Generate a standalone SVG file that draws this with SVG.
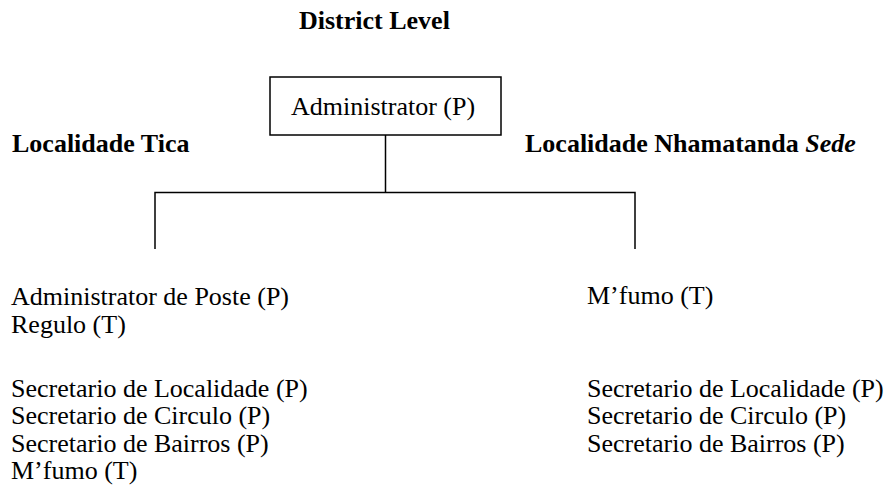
<svg xmlns="http://www.w3.org/2000/svg" width="893" height="495" viewBox="0 0 893 495">
<style>
text{font-family:"Liberation Serif","Times New Roman",serif;font-size:26px;fill:#000}
.b{font-weight:bold}
.ln{stroke:#000;stroke-width:1.5;fill:none}
</style>
<rect width="893" height="495" fill="#fff"/>
<g id="title"><text class="b" x="299" y="29">District Level</text></g>
<g id="admin">
<rect x="270" y="77" width="231" height="58" fill="#fff" stroke="#000" stroke-width="1.5"/>
<text x="291" y="115">Administrator (P)</text>
</g>
<g id="connectors">
<path class="ln" d="M385.5 135V192.5M155 249V192.5H635V249"/>
</g>
<g id="tica">
<text class="b" x="12" y="152">Localidade Tica</text>
<text x="11" y="305">Administrator de Poste (P)</text>
<text x="11" y="333">Regulo (T)</text>
<text x="11" y="397">Secretario de Localidade (P)</text>
<text x="11" y="424">Secretario de Circulo (P)</text>
<text x="11" y="452">Secretario de Bairros (P)</text>
<text x="11" y="479">M’fumo (T)</text>
</g>
<g id="sede">
<text class="b" x="525" y="152">Localidade Nhamatanda <tspan font-style="italic">Sede</tspan></text>
<text x="587" y="304">M’fumo (T)</text>
<text x="587" y="397">Secretario de Localidade (P)</text>
<text x="587" y="424">Secretario de Circulo (P)</text>
<text x="587" y="452">Secretario de Bairros (P)</text>
</g>
</svg>
